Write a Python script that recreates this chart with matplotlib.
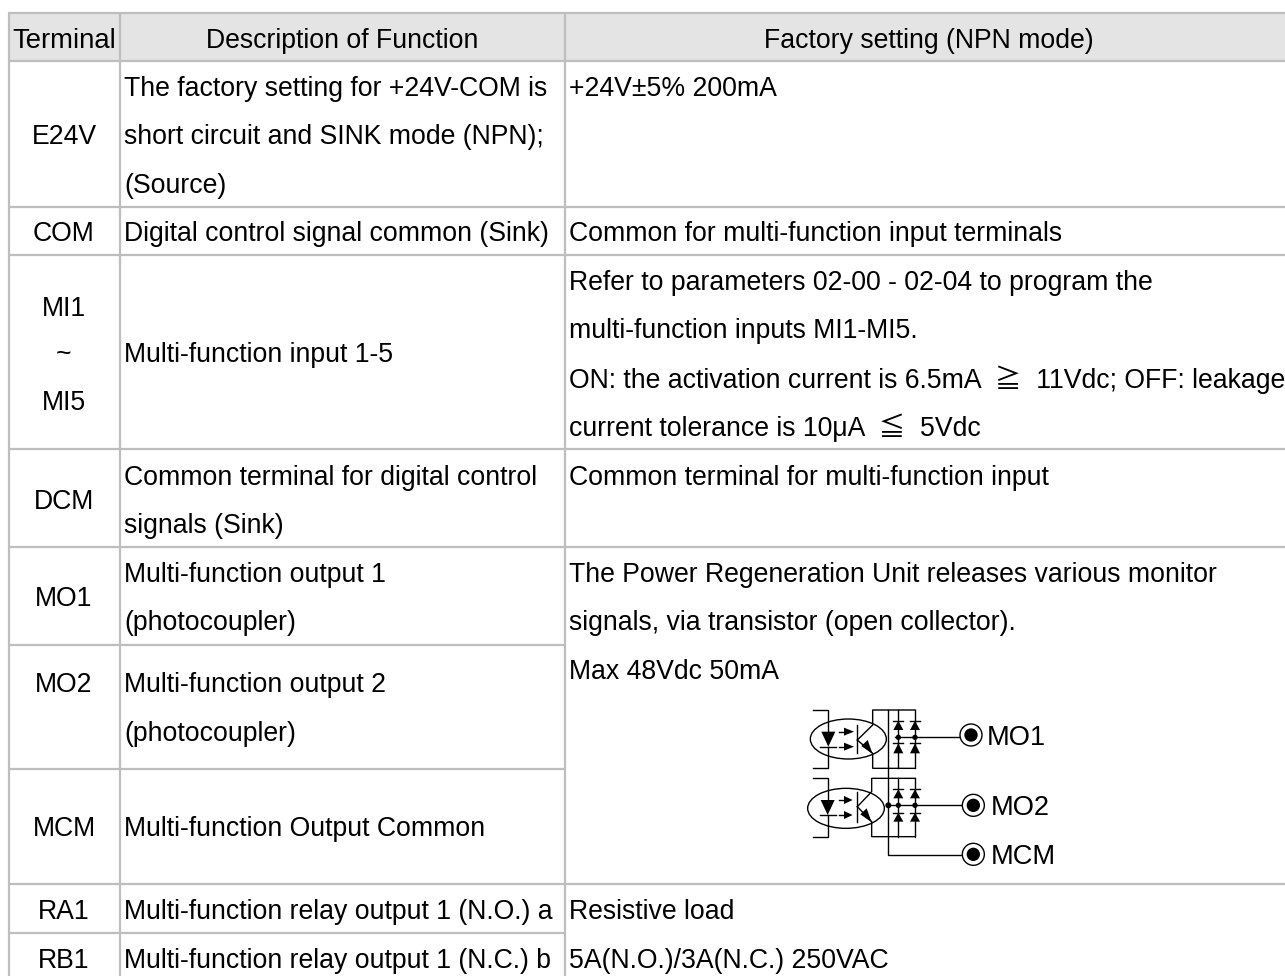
import matplotlib
matplotlib.use("Agg")
import matplotlib.pyplot as plt
from matplotlib.patches import Ellipse, Polygon, Rectangle, Circle

FONT = ['Liberation Sans', 'Noto Sans CJK SC', 'DejaVu Sans']
plt.rcParams['font.family'] = FONT

# Table content
headers = ["Terminal", "Description of Function", "Factory setting (NPN mode)"]
terminals = ["E24V", "COM", "MI1", "~", "MI5", "DCM", "MO1", "MO2", "MCM", "RA1", "RB1"]
descriptions = [
    "The factory setting for +24V-COM is", "short circuit and SINK mode (NPN);", "(Source)",
    "Digital control signal common (Sink)", "Multi-function input 1-5",
    "Common terminal for digital control", "signals (Sink)",
    "Multi-function output 1", "(photocoupler)",
    "Multi-function output 2", "(photocoupler)",
    "Multi-function Output Common",
    "Multi-function relay output 1 (N.O.) a", "Multi-function relay output 1 (N.C.) b",
]
settings = [
    "+24V\u00b15% 200mA", "Common for multi-function input terminals",
    "Refer to parameters 02-00 - 02-04 to program the", "multi-function inputs MI1-MI5.",
    "ON: the activation current is 6.5mA  \u2267  11Vdc; OFF: leakage",
    "current tolerance is 10\u03bcA  \u2266  5Vdc",
    "Common terminal for multi-function input",
    "The Power Regeneration Unit releases various monitor",
    "signals, via transistor (open collector).", "Max 48Vdc 50mA",
    "Resistive load", "5A(N.O.)/3A(N.C.) 250VAC",
]
diagram_labels = ["MO1", "MO2", "MCM"]

# Layout (pixels)
col_x = [9, 120, 565]
row_y = [13, 61, 207, 255, 449, 547, 645, 769, 884, 933]
full_rows = [13, 61, 207, 255, 449, 547, 884]
left_rows = [645, 769, 933]
header_x = [64, 342, 929]
term_y = [134, 231, 306, 352, 400, 499, 596, 682, 826, 909, 958]
desc_y = [86, 134, 183, 231, 352, 475, 523, 572, 620, 682, 731, 826, 909, 958]
set_y = [86, 231, 280, 328, 377, 425, 475, 572, 620, 669, 909, 958]
W, H = 1285, 976
GRID = "#bebebe"
HEAD = "#e4e4e4"
FS = 19.15

fig = plt.figure(figsize=(W / 100, H / 100), dpi=100)
ax = fig.add_axes([0, 0, 1, 1])
ax.set_xlim(0, W)
ax.set_ylim(H, 0)
ax.axis("off")

ax.add_patch(Rectangle((col_x[0], row_y[0]), W - col_x[0], row_y[1] - row_y[0], fc=HEAD, ec="none", zorder=0))
for y in full_rows:
    ax.plot([col_x[0] - 1, W], [y, y], color=GRID, lw=1.6, solid_capstyle="butt", zorder=1)
for y in left_rows:
    ax.plot([col_x[0] - 1, col_x[2]], [y, y], color=GRID, lw=1.6, solid_capstyle="butt", zorder=1)
for x in col_x:
    ax.plot([x, x], [row_y[0], H], color=GRID, lw=1.6, solid_capstyle="butt", zorder=1)


def put(x, y, s, ha="left", **kw):
    ax.text(x, y, s, ha=ha, va="center_baseline", fontsize=kw.pop("fs", FS), color="black", family=FONT, **kw)


for i, (x, s) in enumerate(zip(header_x, headers)):
    put(x, 38, s, ha="center", fs=19.8 if i == 0 else FS)
for y, s in zip(term_y, terminals):
    put(64, y, s, ha="center")
for y, s in zip(desc_y, descriptions):
    put(124, y, s)
for y, s in zip(set_y, settings):
    put(569, y, s)

# Terminal circuit, in zoomed-crop units
OX, OY = 780, 690


def P(x, y):
    return OX + x / 3, OY + y / 3


def wire(*pts, lw=1.0):
    xs, ys = zip(*[P(*p) for p in pts])
    ax.plot(xs, ys, color="black", lw=lw, solid_joinstyle="miter", zorder=3)


def tri(*pts):
    ax.add_patch(Polygon([P(*p) for p in pts], closed=True, fc="black", ec="none", zorder=3))


def dot(x, y, r=8):
    ax.add_patch(Circle(P(x, y), r / 3, fc="black", ec="none", zorder=4))


def coupler(bx, cx, ew, top, bot, ey, dtop, dbot, barx, arrow_end, rx, bar_top, bar_bot, base_y):
    # bracket and LED
    wire((100, top), (bx, top), (bx, dtop))
    wire((bx, dbot), (bx, bot), (100, bot))
    tri((bx - 21, dtop), (bx + 21, dtop), (bx, dbot))
    wire((bx - 24, dbot), (bx + 24, dbot))
    ax.add_patch(Ellipse(P(cx, ey), ew / 3, 120 / 3, fc="none", ec="black", lw=1.0, zorder=3))
    for y in (dtop, dbot):
        wire((178, y), (192, y))
        tri((192, y - 12), (arrow_end, y), (192, y + 12))
    # transistor
    wire((barx, bar_top), (barx, bar_bot))
    wire((barx, base_y), (rx, bar_top), (rx, top), (405, top))
    wire((barx, base_y), (rx, bar_bot), (rx, bot), (405, bot))
    tri((rx, bar_bot + 2), (rx - 34, bar_bot - 22), (rx - 15, bar_bot - 40))


def diodes(top, bot, bar1, base1, bar2, base2, mid):
    for x in (355, 405):
        wire((x, top), (x, bot))
        wire((x - 15, bar1), (x + 15, bar1))
        tri((x - 15, base1), (x + 15, base1), (x, bar1))
        wire((x - 15, bar2), (x + 15, bar2))
        tri((x - 15, base2), (x + 15, base2), (x, bar2))
        dot(x, mid)


def terminal(x, y, s, tx):
    ax.add_patch(Circle(P(x, y), 33 / 3, fc="white", ec="black", lw=1.0, zorder=4))
    ax.add_patch(Circle(P(x, y), 20 / 3, fc="black", ec="none", zorder=5))
    tx0, ty0 = P(tx, y)
    ax.text(tx0, ty0, s, ha="left", va="center_baseline", fontsize=19.6,
            color="black", family=FONT, zorder=5)


coupler(145, 205, 228, 60, 235, 147, 125, 170, 232, 222, 278, 105, 190, 150)
coupler(143, 198, 230, 265, 440, 355, 330, 375, 232, 218, 275, 305, 395, 350)
diodes(60, 235, 92, 120, 160, 190, 142)
diodes(265, 440, 298, 325, 368, 395, 346)
wire((325, 60), (325, 495), (548, 495))
wire((345, 142), (540, 142))
wire((325, 346), (548, 346))
dot(325, 346, 9)
terminal(573, 135, diagram_labels[0], 620)
terminal(580, 346, diagram_labels[1], 632)
terminal(580, 493, diagram_labels[2], 632)

fig.savefig("out.png", dpi=100, facecolor="white")
